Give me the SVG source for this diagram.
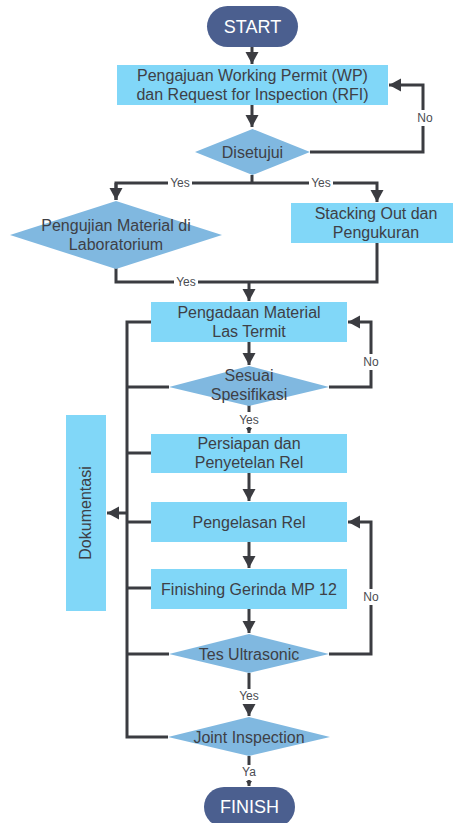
<svg xmlns="http://www.w3.org/2000/svg" width="454" height="823" viewBox="0 0 454 823">
<defs>
<marker id="ah" markerUnits="userSpaceOnUse" markerWidth="14" markerHeight="14" refX="12" refY="6.5" orient="auto">
<path d="M0,0 L12,6.5 L0,13 z" fill="#3b3c41"/>
</marker>
<marker id="as" markerUnits="userSpaceOnUse" markerWidth="8" markerHeight="8" refX="5" refY="3" orient="auto">
<path d="M0,0 L5,3 L0,6 z" fill="#3b3c41"/>
</marker>
</defs>
<style>
.pill{fill:#4b5f8f}
.box{fill:#81d7f8}
.dia{fill:#80b8e0}
.t{font-family:"Liberation Sans",Arial,sans-serif;font-size:16px;fill:#3e4046;text-anchor:middle}
.tw{font-family:"Liberation Sans",Arial,sans-serif;font-size:18px;fill:#ffffff;text-anchor:middle}
.l{font-family:"Liberation Sans",Arial,sans-serif;font-size:12px;fill:#4a4c52;text-anchor:middle}
.c{fill:none;stroke:#3b3c41;stroke-width:3}
.cs{fill:none;stroke:#3b3c41;stroke-width:3}
.bg{fill:#ffffff}
</style>
<rect width="454" height="823" fill="#ffffff"/>
<g id="connectors">
<path class="c" d="M252,47 V64" marker-end="url(#ah)"/>
<path class="c" d="M252,105 V127" marker-end="url(#ah)"/>
<path class="c" d="M310,152 H423 V85 H389" marker-end="url(#ah)"/>
<path class="c" d="M252,175 V183"/>
<path class="c" d="M116,200 V183 H377 V202" marker-end="url(#ah)"/>
<path class="c" d="M116,183 V200" marker-end="url(#ah)"/>
<path class="c" d="M116,268 V282 H377 V243"/>
<path class="c" d="M249,282 V301" marker-end="url(#ah)"/>
<path class="c" d="M249,342 V365" marker-end="url(#ah)"/>
<path class="c" d="M329,387 H371 V322 H348" marker-end="url(#ah)"/>
<path class="cs" d="M249,405 V433" marker-end="url(#as)"/>
<path class="c" d="M249,473 V501" marker-end="url(#ah)"/>
<path class="c" d="M249,542 V568" marker-end="url(#ah)"/>
<path class="c" d="M249,609 V633" marker-end="url(#ah)"/>
<path class="c" d="M329,654 H371 V522 H348" marker-end="url(#ah)"/>
<path class="c" d="M249,673 V716" marker-end="url(#ah)"/>
<path class="cs" d="M249,756 V786" marker-end="url(#as)"/>
<path class="c" d="M151,322 H127 V737 H168"/>
<path class="c" d="M127,387 H169 M127,453 H151 M127,522 H151 M127,588 H151 M127,654 H169"/>
<path class="c" d="M127,513 H107" marker-end="url(#ah)"/>
<rect class="bg" x="168" y="176" width="24" height="13"/>
<text class="l" x="180" y="187">Yes</text>
<rect class="bg" x="309" y="176" width="24" height="13"/>
<text class="l" x="321" y="187">Yes</text>
<rect class="bg" x="174" y="275" width="24" height="13"/>
<text class="l" x="186" y="286">Yes</text>
<rect class="bg" x="415" y="110" width="20" height="16"/>
<text class="l" x="425" y="122">No</text>
<rect class="bg" x="361" y="354" width="20" height="16"/>
<text class="l" x="371" y="366">No</text>
<rect class="bg" x="361" y="589" width="20" height="16"/>
<text class="l" x="371" y="601">No</text>
<rect class="bg" x="236" y="412" width="26" height="15"/>
<text class="l" x="249" y="424">Yes</text>
<rect class="bg" x="236" y="689" width="26" height="15"/>
<text class="l" x="249" y="700">Yes</text>
<rect class="bg" x="238" y="765" width="22" height="15"/>
<text class="l" x="249" y="776">Ya</text>
</g>
<g id="start">
<rect class="pill" x="207" y="6" width="91" height="41" rx="20.5"/>
<text class="tw" x="252.5" y="33">START</text>
</g>
<g id="pengajuan">
<rect class="box" x="117" y="65" width="271" height="40"/>
<text class="t" x="252.5" y="81">Pengajuan Working Permit (WP)</text>
<text class="t" x="252.5" y="100">dan Request for Inspection (RFI)</text>
</g>
<g id="disetujui">
<polygon class="dia" points="252.5,129 310,152 252.5,175 195,152"/>
<text class="t" x="252.5" y="158">Disetujui</text>
</g>
<g id="pengujian">
<polygon class="dia" points="116,201 222,235 116,269 10,235"/>
<text class="t" x="116" y="231">Pengujian Material di</text>
<text class="t" x="116" y="250">Laboratorium</text>
</g>
<g id="stacking">
<rect class="box" x="291" y="203" width="162" height="40"/>
<text class="t" x="376" y="219">Stacking Out dan</text>
<text class="t" x="376" y="238">Pengukuran</text>
</g>
<g id="pengadaan">
<rect class="box" x="151" y="302" width="196" height="40"/>
<text class="t" x="249" y="318">Pengadaan Material</text>
<text class="t" x="249" y="337">Las Termit</text>
</g>
<g id="sesuai">
<polygon class="dia" points="249,366 329,387 249,406 169,387"/>
<text class="t" x="249" y="381">Sesuai</text>
<text class="t" x="249" y="400">Spesifikasi</text>
</g>
<g id="persiapan">
<rect class="box" x="151" y="434" width="196" height="39"/>
<text class="t" x="249" y="449">Persiapan dan</text>
<text class="t" x="249" y="468">Penyetelan Rel</text>
</g>
<g id="pengelasan">
<rect class="box" x="151" y="502" width="196" height="40"/>
<text class="t" x="249" y="528">Pengelasan Rel</text>
</g>
<g id="finishing">
<rect class="box" x="151" y="569" width="196" height="40"/>
<text class="t" x="249" y="595">Finishing Gerinda MP 12</text>
</g>
<g id="tes">
<polygon class="dia" points="249,634 329,654 249,673 169,654"/>
<text class="t" x="249" y="660">Tes Ultrasonic</text>
</g>
<g id="joint">
<polygon class="dia" points="249,717 330,737 249,756 168,737"/>
<text class="t" x="249" y="743">Joint Inspection</text>
</g>
<g id="dokumentasi">
<rect class="box" x="66" y="415" width="40" height="196"/>
<text class="t" x="0" y="0" transform="translate(91,513) rotate(-90)">Dokumentasi</text>
</g>
<g id="finish">
<rect class="pill" x="204" y="787" width="91" height="40" rx="20"/>
<text class="tw" x="249.5" y="813">FINISH</text>
</g>
</svg>
